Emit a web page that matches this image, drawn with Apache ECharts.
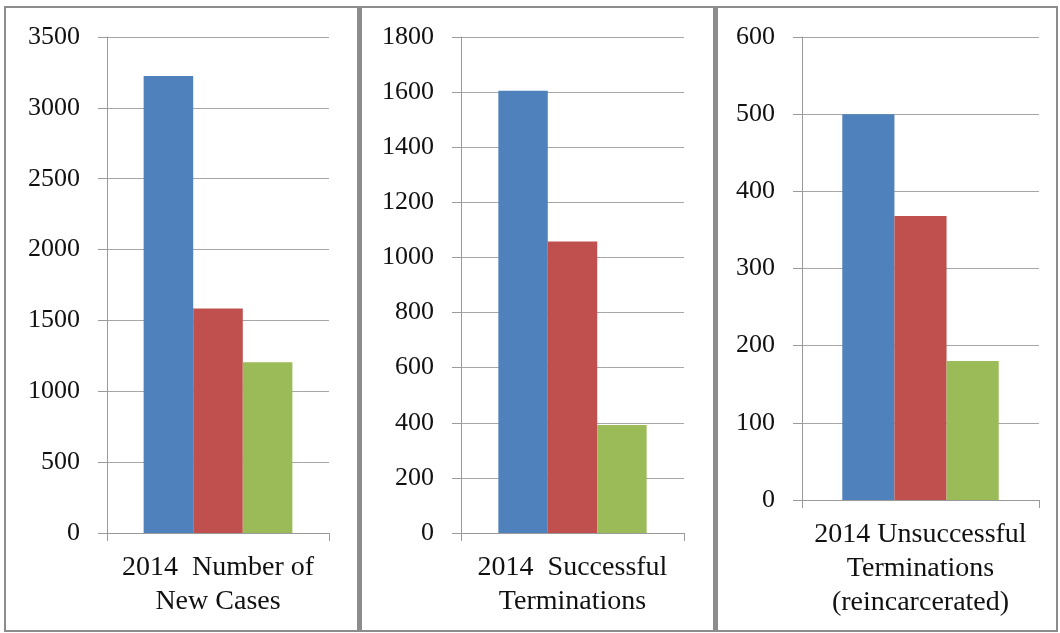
<!DOCTYPE html>
<html>
<head>
<meta charset="utf-8">
<script src="https://cdn.jsdelivr.net/npm/echarts@6/dist/echarts.min.js"></script>
<style>
  html, body { margin: 0; padding: 0; background: #fff; }
  #chart { width: 1060px; height: 633px; }
</style>
</head>
<body>
<div id="chart"></div>
<script>
// category labels, one per panel
var categories = [
    '2014  Number of\nNew Cases',
    '2014  Successful\nTerminations',
    '2014 Unsuccessful\nTerminations\n(reincarcerated)'
];

// values per panel (blue, red, green)
var newCases = [3225, 1585, 1205];
var successful = [1605, 1058, 392];
var unsuccessful = [500, 368, 180];

// y axis ranges per panel
var yMax = [3500, 1800, 600];
var yStep = [500, 200, 100];

var colors = ['#4f81bd', '#c0504d', '#9bbb59'];
var panels = [newCases, successful, unsuccessful];

(function () {

    var chart = echarts.init(document.getElementById('chart'));

    var grids = [
        { left: 107, top: 37, width: 222, height: 496 },
        { left: 461, top: 37, width: 223, height: 496 },
        { left: 802, top: 37, width: 237, height: 463 }
    ];
    var gaps = ['33%', '33.5%', '34%'];

    var xAxes = [], yAxes = [], series = [];

    for (var p = 0; p < 3; p++) {
        xAxes.push({
            type: 'category',
            gridIndex: p,
            data: [categories[p]],
            axisLine: { lineStyle: { color: '#9a9a9a', width: 1 } },
            axisTick: { show: true, length: 8, lineStyle: { color: '#9a9a9a' } },
            axisLabel: {
                margin: 18,
                color: '#111',
                fontFamily: 'Liberation Serif',
                fontSize: 28,
                lineHeight: 34
            },
            splitLine: { show: false }
        });
        yAxes.push({
            type: 'value',
            gridIndex: p,
            min: 0,
            max: yMax[p],
            interval: yStep[p],
            axisLine: { show: true, lineStyle: { color: '#9a9a9a', width: 1 } },
            axisTick: { show: true, length: 9, lineStyle: { color: '#9a9a9a' } },
            axisLabel: {
                margin: 27,
                color: '#111',
                fontFamily: 'Liberation Serif',
                fontSize: 26,
                formatter: function (v) { return String(v); }
            },
            splitLine: { lineStyle: { color: '#a6a6a6', width: 1 } }
        });
        for (var s = 0; s < 3; s++) {
            series.push({
                type: 'bar',
                name: 'Series ' + (s + 1),
                xAxisIndex: p,
                yAxisIndex: p,
                barGap: '0%',
                barCategoryGap: gaps[p],
                itemStyle: { color: colors[s] },
                data: [panels[p][s]]
            });
        }
    }

    var option = {
        backgroundColor: '#fff',
        animation: false,
        grid: grids,
        xAxis: xAxes,
        yAxis: yAxes,
        series: series,
        graphic: [
            {
                type: 'rect',
                shape: { x: 5, y: 7, width: 1052, height: 624 },
                style: { fill: 'none', stroke: '#8c8c8c', lineWidth: 2 },
                silent: true
            },
            {
                type: 'rect',
                shape: { x: 357, y: 7, width: 5, height: 624 },
                style: { fill: '#8c8c8c' },
                silent: true
            },
            {
                type: 'rect',
                shape: { x: 713, y: 7, width: 5, height: 624 },
                style: { fill: '#8c8c8c' },
                silent: true
            }
        ]
    };

    chart.setOption(option);
})();
</script>
</body>
</html>
